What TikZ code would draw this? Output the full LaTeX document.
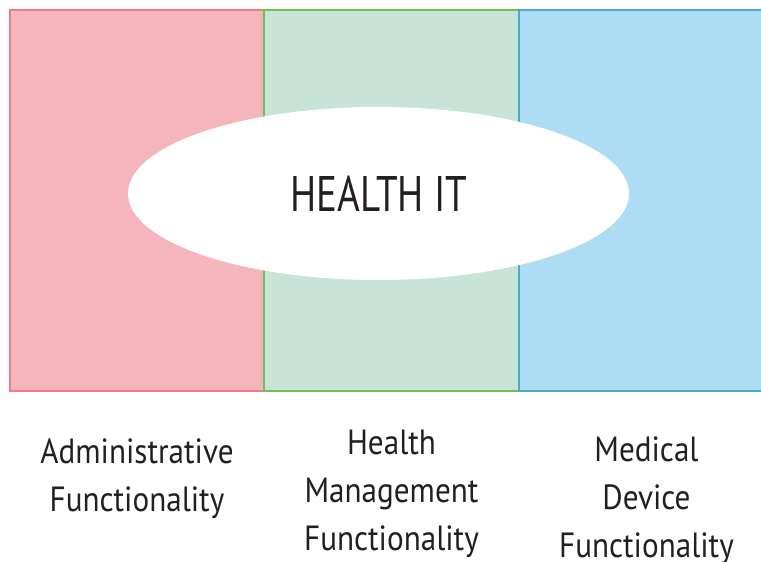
\documentclass[tikz,border=0pt]{standalone}
\usepackage{fontspec}
\setmainfont{PT Sans}
\newfontfamily\labelfont[FakeStretch=0.89]{PT Sans}
\newfontfamily\titlefont[FakeStretch=0.78]{PT Sans}
\definecolor{pinkfill}{HTML}{F5B5BD}
\definecolor{pinkline}{HTML}{F07A86}
\definecolor{greenfill}{HTML}{C8E4D8}
\definecolor{greenline}{HTML}{72C054}
\definecolor{bluefill}{HTML}{ADDCF5}
\definecolor{blueline}{HTML}{4AACC6}
\definecolor{inkcol}{HTML}{231F20}
\begin{document}
\begin{tikzpicture}[x=1pt,y=1pt,
  panel/.style={line width=2pt},
  label/.style={text=inkcol,inner sep=0pt,align=center,anchor=base,
    font=\labelfont\fontsize{35}{48}\selectfont},
  title/.style={text=inkcol,inner sep=0pt,anchor=base,
    font=\titlefont\fontsize{50}{60}\selectfont}]
\useasboundingbox (0,0) rectangle (761,562);
\begin{scope}
\clip (0,0) rectangle (761,562);
\draw[panel,draw=pinkline,fill=pinkfill] (10,171) rectangle (264,552);
\draw[panel,draw=greenline,fill=greenfill] (264,171) rectangle (519,552);
\draw[panel,draw=blueline,fill=bluefill] (519,171) rectangle (774,552);
\end{scope}
\fill[white] (378.5,368.5) ellipse [x radius=250.5, y radius=86.5];
\node[title] (hit) at (379,350) {HEALTH IT};
\node[label] (adm) at (137,50) {Administrative\\Functionality};
\node[label] (hm) at (391.5,11) {Health\\Management\\Functionality};
\node[label] (md) at (646.5,4) {Medical\\Device\\Functionality};
\end{tikzpicture}
\end{document}
